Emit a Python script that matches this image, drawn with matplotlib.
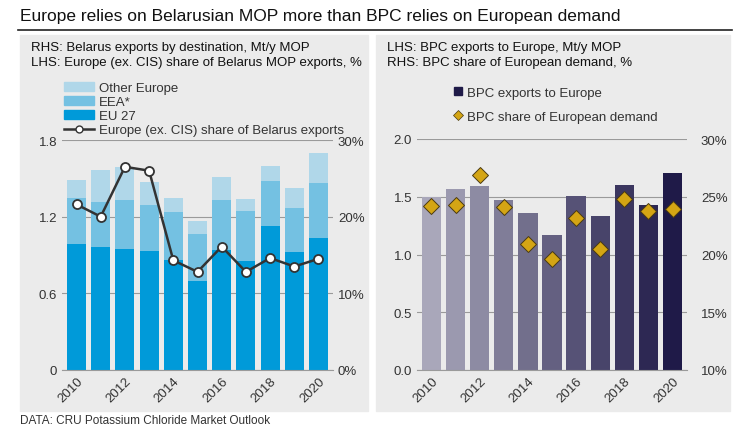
import matplotlib.pyplot as plt
import matplotlib.patches as mpatches
from matplotlib.lines import Line2D
import matplotlib.colors as mcolors

years = list(range(2010, 2021))
eu27 = [0.985, 0.96, 0.945, 0.93, 0.86, 0.695, 0.94, 0.85, 1.126, 0.922, 1.032]
eea_top = [1.345, 1.314, 1.33, 1.29, 1.235, 1.063, 1.33, 1.243, 1.478, 1.266, 1.463]
total = [1.49, 1.565, 1.59, 1.47, 1.35, 1.165, 1.51, 1.337, 1.596, 1.423, 1.698]
europe_share = [21.6, 20.0, 26.5, 26.0, 14.3, 12.8, 16.1, 12.8, 14.6, 13.5, 14.5]

bpc_exports = [1.494, 1.566, 1.595, 1.471, 1.361, 1.168, 1.506, 1.332, 1.604, 1.431, 1.705]
bpc_share = [24.2, 24.3, 26.85, 24.1, 20.9, 19.6, 23.2, 20.5, 24.8, 23.8, 23.9]

eea = [t - e for t, e in zip(eea_top, eu27)]
other = [t - e for t, e in zip(total, eea_top)]

W, H = 746, 435
fig = plt.figure(figsize=(W / 100, H / 100), dpi=100)
plt.rcParams['font.family'] = ['Liberation Sans', 'DejaVu Sans']
txt = '#333333'
grid = '#9a9a9a'
panel = '#ebebeb'

def fx(x): return x / W
def fy(y): return 1 - y / H

fig.patches.append(mpatches.Rectangle((fx(20), fy(412)), fx(348), fy(36) - fy(412), transform=fig.transFigure, color=panel, zorder=-10))
fig.patches.append(mpatches.Rectangle((fx(376), fy(412)), fx(354), fy(36) - fy(412), transform=fig.transFigure, color=panel, zorder=-10))
fig.add_artist(Line2D([fx(18), fx(732)], [fy(31), fy(31)], color='#222222', lw=1.2, transform=fig.transFigure))
fig.text(fx(20), fy(17), "Europe relies on Belarusian MOP more than BPC relies on European demand", fontsize=12.5, va='center', color='#111111')
fig.text(fx(20), fy(421), "DATA: CRU Potassium Chloride Market Outlook", fontsize=8.5, va='center', color=txt)

def style(ax):
    ax.set_facecolor('none')
    for s in ['top', 'left', 'right']:
        ax.spines[s].set_visible(False)
    ax.spines['bottom'].set_color(grid)
    ax.tick_params(length=0, colors=txt, labelsize=9.5)
    ax.grid(axis='y', color=grid, lw=0.8)
    ax.set_axisbelow(True)

# left panel
ax1 = fig.add_axes([fx(62), fy(371), fx(271), fy(141) - fy(371)])
style(ax1)
ax1.bar(years, eu27, width=0.78, color='#009ad9', label='EU 27')
ax1.bar(years, eea, bottom=eu27, width=0.78, color='#74c1e2', label='EEA*')
ax1.bar(years, other, bottom=eea_top, width=0.78, color='#b0d7e9', label='Other Europe')
ax1.set_ylim(0, 1.8)
ax1.set_yticks([0, 0.6, 1.2, 1.8])
ax1.set_yticklabels(['0', '0.6', '1.2', '1.8'])
ax1.set_xlim(2009.4, 2020.6)
ax1.set_xticks(years[::2])
ax1.set_xticklabels(years[::2], rotation=45, ha='right', rotation_mode='anchor')
ax1b = ax1.twinx()
ax1b.plot(years, europe_share, color='#333333', lw=1.8, marker='o', ms=6.5, mfc='white', mec='#333333', mew=1.3)
ax1b.set_ylim(0, 30)
ax1b.set_yticks([0, 10, 20, 30])
ax1b.set_yticklabels(['0%', '10%', '20%', '30%'])
for s in ['top', 'left', 'right', 'bottom']:
    ax1b.spines[s].set_visible(False)
ax1b.tick_params(length=0, colors=txt, labelsize=9.5)
fig.text(fx(31), fy(48), "RHS: Belarus exports by destination, Mt/y MOP", fontsize=9.5, va='center', color='#111111')
fig.text(fx(31), fy(63), "LHS: Europe (ex. CIS) share of Belarus MOP exports, %", fontsize=9.5, va='center', color='#111111')
h = [mpatches.Patch(color='#b0d7e9'), mpatches.Patch(color='#74c1e2'), mpatches.Patch(color='#009ad9'),
     Line2D([], [], color='#333333', lw=1.8, marker='o', ms=5, mfc='white', mec='#333333')]
fig.legend(h, ['Other Europe', 'EEA*', 'EU 27', 'Europe (ex. CIS) share of Belarus exports'],
           loc='upper left', bbox_to_anchor=(fx(57), fy(76)), frameon=False, fontsize=9.5,
           labelspacing=0.15, handlelength=2.3, handleheight=0.7, handletextpad=0.4, borderpad=0, labelcolor=txt)

# right panel
ax2 = fig.add_axes([fx(417), fy(371), fx(270), fy(140) - fy(371)])
style(ax2)
cmap = mcolors.LinearSegmentedColormap.from_list('p', ['#a9a7ba', '#1f1a48'])
cols = [cmap(i / 10) for i in range(11)]
ax2.bar(years, bpc_exports, width=0.8, color=cols)
ax2.set_ylim(0, 2.0)
ax2.set_yticks([0, 0.5, 1.0, 1.5, 2.0])
ax2.set_yticklabels(['0.0', '0.5', '1.0', '1.5', '2.0'])
ax2.set_xlim(2009.4, 2020.6)
ax2.set_xticks(years[::2])
ax2.set_xticklabels(years[::2], rotation=45, ha='right', rotation_mode='anchor')
ax2b = ax2.twinx()
ax2b.plot(years, bpc_share, ls='none', marker='D', ms=8, color='#d4a514', mec='#4a3a10', mew=0.7)
ax2b.set_ylim(10, 30)
ax2b.set_yticks([10, 15, 20, 25, 30])
ax2b.set_yticklabels(['10%', '15%', '20%', '25%', '30%'])
for s in ['top', 'left', 'right', 'bottom']:
    ax2b.spines[s].set_visible(False)
ax2b.tick_params(length=0, colors=txt, labelsize=9.5, pad=10)
fig.text(fx(387), fy(48), "LHS: BPC exports to Europe, Mt/y MOP", fontsize=9.5, va='center', color='#111111')
fig.text(fx(387), fy(63), "RHS: BPC share of European demand, %", fontsize=9.5, va='center', color='#111111')
h2 = [Line2D([], [], ls='none', marker='s', ms=6, color='#1f1a48'),
      Line2D([], [], ls='none', marker='D', ms=5, color='#d4a514', mec='#4a3a10', mew=0.5)]
fig.legend(h2, ['BPC exports to Europe', 'BPC share of European demand'],
           loc='upper left', bbox_to_anchor=(fx(446), fy(81)), frameon=False, fontsize=9.5,
           labelspacing=0.9, handlelength=0.8, handletextpad=0.3, borderpad=0, labelcolor=txt)

fig.savefig('out.png', dpi=100)
